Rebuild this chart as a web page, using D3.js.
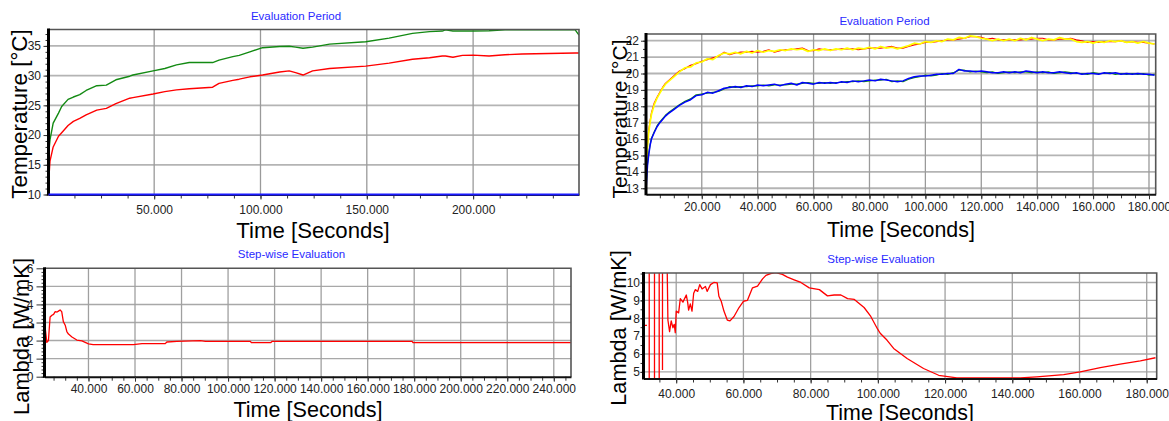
<!DOCTYPE html>
<html><head><meta charset="utf-8">
<script src="https://cdn.jsdelivr.net/npm/d3@7"></script>
<style>
body{margin:0;background:#fff}
svg{display:block}
text{font-family:"Liberation Sans",Arial,sans-serif}
</style>
</head><body>
<script>
// ---------------- Panel 1: Evaluation Period (temperature) ----------------
const p1Time = [300,1000,2500,5000,6500,9500,12000,15000,18000,23000,27500,32000,38500,40000,49500,55000,60500,66500,77500,80500,87000,90000,95000,101000,109000,113500,116500,120000,124500,132500,149500,160500,171500,179500,185500,187000,190500,195000,200000,207500,215000,223000,248000,249800];
const p1Green = [16.5,19.2,22.0,23.7,24.8,26.0,26.4,26.8,27.5,28.3,28.4,29.3,29.9,30.1,30.8,31.2,31.8,32.2,32.2,32.6,33.2,33.4,34.0,34.7,34.9,34.95,34.8,34.6,34.8,35.3,35.7,36.3,37.1,37.4,37.5,37.7,37.5,37.5,37.5,37.55,37.7,37.7,37.7,36.8];
const p1Red = [11.8,15.6,18.0,19.8,20.4,21.6,22.3,22.8,23.4,24.2,24.5,25.3,26.2,26.3,26.9,27.3,27.6,27.8,28.05,28.7,29.2,29.4,29.8,30.1,30.6,30.8,30.5,30.1,30.8,31.2,31.6,32.1,32.75,33.0,33.3,33.3,33.1,33.4,33.45,33.3,33.5,33.65,33.8,33.8];
const p1BlueTime = [300,249800];
const p1Blue = [10,10];
const p1XTicks = [50000,100000,150000,200000];
const p1YTicks = [10,15,20,25,30,35];

// ---------------- Panel 2: Evaluation Period (temperature) ----------------
const p2Time = [0,300,600,1000,1500,2000,3000,4000,5000,6000,7000,8000,10000,
 12000,14000,16000,18000,20000,22000,24000,26000,28000,30000,
 32000,34000,36000,38000,40000,42000,44000,46000,48000,50000,
 52000,54000,56000,58000,60000,62000,64000,66000,68000,70000,
 72000,74000,76000,78000,80000,82000,84000,86000,88000,90000,
 92000,94000,96000,98000,100000,102000,104000,106000,108000,110000,
 112000,114000,116000,118000,120000,122000,124000,126000,128000,130000,
 132000,134000,136000,138000,140000,142000,144000,146000,148000,150000,
 152000,154000,156000,158000,160000,162000,164000,166000,168000,170000,
 172000,174000,176000,178000,180000,182000];
const p2Red = [14.5,15.0,15.7,16.5,17.1,17.6,18.2,18.55,18.85,19.15,19.4,19.55,19.85,
 20.15,20.3,20.5,20.6,20.75,20.85,20.95,21.05,21.3,21.15,
 21.25,21.3,21.3,21.35,21.3,21.35,21.45,21.3,21.4,21.45,
 21.45,21.5,21.55,21.4,21.4,21.5,21.45,21.45,21.45,21.5,
 21.5,21.5,21.45,21.5,21.55,21.55,21.55,21.6,21.65,21.55,
 21.55,21.65,21.75,21.8,21.9,21.9,21.95,22.0,22.05,22.05,
 22.1,22.15,22.25,22.25,22.2,22.1,22.15,22.05,22.05,22.05,
 22.05,22.05,22.1,22.1,22.15,22.15,22.05,22.05,22.1,22.1,
 22.15,22.05,22.0,21.9,21.95,21.9,21.95,21.95,21.95,22.0,
 21.9,21.95,21.9,21.9,21.85,21.8];
const p2Yellow = [14.4,14.8,15.6,16.4,17.0,17.5,18.1,18.5,18.8,19.1,19.35,19.5,19.8,
 20.1,20.35,20.4,20.65,20.7,20.9,20.85,21.1,21.25,21.2,
 21.3,21.2,21.35,21.25,21.4,21.3,21.4,21.35,21.45,21.4,
 21.5,21.45,21.5,21.35,21.45,21.4,21.5,21.4,21.5,21.45,
 21.55,21.45,21.55,21.5,21.6,21.5,21.65,21.55,21.6,21.5,
 21.6,21.7,21.85,21.8,21.95,21.9,22.0,21.95,22.1,22.05,
 22.2,22.15,22.3,22.25,22.15,22.1,22.0,22.1,22.0,22.1,
 22.0,22.15,22.05,22.2,22.1,22.0,22.1,22.05,22.2,22.1,
 22.1,21.95,21.9,21.95,21.85,21.95,21.9,22.0,21.95,22.0,
 21.9,21.95,21.85,21.95,21.85,21.8];
const p2Green = [12.8,13.8,14.5,15.1,15.65,16.05,16.45,16.8,17.05,17.25,17.45,17.6,17.85,
 18.1,18.3,18.45,18.7,18.75,18.8,18.85,18.9,19.05,19.2,
 19.15,19.2,19.2,19.25,19.25,19.3,19.25,19.3,19.3,19.3,
 19.35,19.35,19.4,19.45,19.4,19.4,19.45,19.4,19.45,19.45,
 19.5,19.5,19.55,19.5,19.55,19.6,19.6,19.65,19.5,19.55,
 19.5,19.65,19.75,19.8,19.9,19.85,19.9,20.0,19.95,20.05,
 20.2,20.2,20.1,20.15,20.1,20.05,20.1,20.0,20.05,20.1,
 20.05,20.1,20.1,20.05,20.1,20.05,20.1,20.0,20.05,20.1,
 20.05,20.0,20.0,19.95,20.05,20.0,20.0,20.05,19.95,20.0,
 19.95,20.0,19.95,20.0,19.9,19.95];
const p2Blue = [12.7,13.6,14.4,15.0,15.6,16.0,16.4,16.75,17.0,17.2,17.4,17.55,17.8,
 18.05,18.25,18.4,18.65,18.7,18.85,18.8,18.95,19.1,19.15,
 19.2,19.15,19.25,19.2,19.3,19.25,19.3,19.35,19.25,19.35,
 19.4,19.3,19.45,19.4,19.35,19.45,19.4,19.45,19.4,19.5,
 19.45,19.55,19.5,19.55,19.6,19.55,19.65,19.6,19.55,19.5,
 19.55,19.7,19.8,19.85,19.85,19.9,19.95,19.95,20.0,20.0,
 20.25,20.15,20.15,20.1,20.15,20.1,20.05,20.05,20.1,20.05,
 20.1,20.05,20.15,20.1,20.05,20.1,20.05,20.05,20.1,20.05,
 20.0,20.05,19.95,20.0,20.0,19.95,20.05,20.0,20.05,19.95,
 20.0,19.95,20.0,19.95,19.95,19.9];
const p2XTicks = [20000,40000,60000,80000,100000,120000,140000,160000,180000];
const p2YTicks = [13,14,15,16,17,18,19,20,21,22];

// ---------------- Panel 3: Step-wise Evaluation (lambda) ----------------
const p3Time = [21100,22100,22800,23500,24300,25000,25700,26500,27100,27800,28500,29200,30000,30700,31400,32900,35000,37200,38600,40000,42000,59300,63000,73000,73700,78000,88100,90300,109600,110000,118400,119000,179100,179500,247400];
const p3Lambda = [3.04,1.9,2.0,3.3,3.4,3.45,3.6,3.58,3.63,3.69,3.6,3.05,2.85,2.5,2.36,2.2,2.03,1.98,1.9,1.82,1.78,1.78,1.83,1.83,1.92,1.96,2.0,1.96,1.96,1.89,1.89,1.96,1.96,1.89,1.89];
const p3XTicks = [40000,60000,80000,100000,120000,140000,160000,180000,200000,220000,240000];
const p3YTicks = [0,1,2,3,4,5,6];

// ---------------- Panel 4: Step-wise Evaluation (lambda) ----------------
// null = gap in the curve; 12 / 3 = off-scale excursions at the start
const p4Time = [30300,31300,31400,31970,31970,32000,33540,33540,33600,34940,34940,35000,35920,35920,36000,
 37230,37530,38030,38520,39020,39420,39720,40020,40720,41220,42000,43000,43400,43700,44200,44700,45200,45700,46400,47000,47700,48700,49200,50200,51200,52200,52700,53400,54200,55200,56000,57200,58700,60000,61200,62700,64200,65700,66700,68100,69600,71600,73100,75100,77100,79600,82600,85000,87000,89000,91000,93000,95900,97900,99900,100700,102700,104700,108700,113600,118100,123500,130500,142400,147300,155300,160200,166200,172100,178100,182600];
const p4Lambda = [7.6,7.6,null,12,3,null,12,3,null,12,3,null,12,5.1,null,
 12,7.9,7.25,7.85,7.47,7.66,7.19,8.4,8.3,9.1,8.9,9.3,8.9,8.45,8.8,8.4,9.4,9.6,9.5,9.88,9.64,9.78,9.5,9.88,10.0,9.98,9.23,8.95,8.4,7.9,7.85,8.1,8.6,8.95,9.0,9.7,9.8,10.2,10.4,10.5,10.55,10.45,10.3,10.15,10.0,9.7,9.6,9.25,9.3,9.3,9.1,9.05,8.6,8.1,7.4,7.16,6.78,6.31,5.75,5.19,4.81,4.66,4.66,4.66,4.72,4.85,5.0,5.24,5.43,5.62,5.79];
const p4XTicks = [40000,60000,80000,100000,120000,140000,160000,180000];
const p4YTicks = [5,6,7,8,9,10];

// ---------------- drawing ----------------
const W = 1169, H = 421;
const svg = d3.select("body").append("svg").attr("width", W).attr("height", H);
const fmt = n => d3.format(",")(n).replace(/,/g, ".");
let clipId = 0;

function panel(p) {
  const g = svg.append("g");
  const x = d3.scaleLinear().domain(p.xDomain).range([p.l, p.r]);
  const y = d3.scaleLinear().domain(p.yDomain).range([p.b, p.t]);

  // grid
  g.append("g").selectAll("line").data(p.yTicks.filter(v => y(v) > p.t + 1 && y(v) < p.b - 1)).join("line")
    .attr("x1", p.l).attr("x2", p.r).attr("y1", d => y(d)).attr("y2", d => y(d))
    .attr("stroke", p.hGridColor || "#b4b4b4").attr("stroke-width", p.hGridW || 1.8);
  g.append("g").selectAll("line").data(p.xTicks).join("line")
    .attr("x1", d => x(d)).attr("x2", d => x(d)).attr("y1", p.t).attr("y2", p.b)
    .attr("stroke", p.vGridColor || "#9a9a9a").attr("stroke-width", p.vGridW || 1.3);

  // minor ticks
  const xMinor = d3.range(Math.ceil(p.xDomain[0] / p.xMinor) * p.xMinor, p.xDomain[1], p.xMinor);
  const yMinor = d3.range(Math.ceil(p.yDomain[0] / p.yMinor) * p.yMinor, p.yDomain[1], p.yMinor);
  g.append("g").attr("transform", `translate(0,${p.b})`)
    .call(d3.axisBottom(x).tickValues(xMinor).tickFormat("").tickSize(p.xMinorLen || 4).tickSizeOuter(0))
    .call(a => a.select(".domain").remove())
    .call(a => a.selectAll("line").attr("stroke", "#333"));
  g.append("g").attr("transform", `translate(${p.l},0)`)
    .call(d3.axisLeft(y).tickValues(yMinor).tickFormat("").tickSize(p.yMinorLen || 3).tickSizeOuter(0))
    .call(a => a.select(".domain").remove())
    .call(a => a.selectAll("line").attr("stroke", "#333"));

  // series
  const cid = "clip" + (clipId++);
  g.append("clipPath").attr("id", cid).append("rect")
    .attr("x", p.l).attr("y", p.t).attr("width", p.r - p.l).attr("height", p.b - p.t);
  const line = d3.line().defined(d => d[1] !== null).x(d => x(d[0])).y(d => y(d[1]));
  p.series.forEach(s => {
    g.append("path").datum(d3.zip(s.t, s.v))
      .attr("clip-path", `url(#${cid})`)
      .attr("fill", "none").attr("stroke", s.color).attr("stroke-width", s.w || 1.3)
      .attr("stroke-linejoin", "round")
      .attr("d", line);
  });

  // frame top/right
  g.append("path")
    .attr("d", `M${p.l},${p.t}H${p.r}V${p.b}`)
    .attr("fill", "none").attr("stroke", "#555").attr("stroke-width", 1.6);

  // axes
  const xa = g.append("g").attr("transform", `translate(0,${p.b})`)
    .call(d3.axisBottom(x).tickValues(p.xTicks).tickFormat(fmt).tickSize(p.xMajorLen || 5).tickPadding(p.xPad).tickSizeOuter(0));
  xa.select(".domain").attr("stroke", "#111").attr("stroke-width", 2);
  xa.selectAll("line").attr("stroke", "#333");
  xa.selectAll("text").attr("font-size", 12).attr("fill", "#222").attr("font-family", '"Liberation Sans",Arial,sans-serif');

  const ya = g.append("g").attr("transform", `translate(${p.l},0)`)
    .call(d3.axisLeft(y).tickValues(p.yTicks).tickFormat(d3.format("d")).tickSize(p.yMajorLen).tickPadding(p.yPad).tickSizeOuter(0));
  ya.select(".domain").remove();
  ya.selectAll("line").attr("stroke", "#333");
  ya.selectAll("text").attr("font-size", 12).attr("fill", "#222").attr("font-family", '"Liberation Sans",Arial,sans-serif');
  g.append("line").attr("x1", p.l).attr("x2", p.l).attr("y1", p.t - 1).attr("y2", p.b + 1)
    .attr("stroke", "#000").attr("stroke-width", 3);

  // overlay series drawn on axis (e.g. blue baseline)
  (p.overlay || []).forEach(s => {
    g.append("path").datum(d3.zip(s.t, s.v))
      .attr("fill", "none").attr("stroke", s.color).attr("stroke-width", s.w || 2)
      .attr("d", line);
  });

  // titles and axis labels
  g.append("text").attr("x", p.titleX).attr("y", p.titleY).attr("text-anchor", "middle")
    .attr("font-size", 11.5).attr("fill", "#2a2aff").text(p.title);
  g.append("text").attr("x", p.xLabX).attr("y", p.xLabY).attr("text-anchor", "middle")
    .attr("font-size", p.xLabSize).attr("fill", "#000").text(p.xLabel);
  g.append("text").attr("transform", `translate(${p.yLabX},${p.yLabY}) rotate(-90)`).attr("text-anchor", "middle")
    .attr("font-size", p.yLabSize).attr("fill", "#000").text(p.yLabel);
}

panel({
  l: 48.5, r: 579, t: 29.5, b: 194.5,
  xDomain: [300, 249800], yDomain: [10, 37.76],
  xTicks: p1XTicks, yTicks: p1YTicks, xMinor: 12500, yMinor: 1,
  xPad: 5.5, yMajorLen: 5, yPad: 2.5,
  series: [
    { t: p1Time, v: p1Green, color: "#138a13", w: 1.4 },
    { t: p1Time, v: p1Red, color: "#ff0000", w: 1.4 }
  ],
  overlay: [{ t: p1BlueTime, v: p1Blue, color: "#1a1aff", w: 2.2 }],
  title: "Evaluation Period", titleX: 296, titleY: 19.5,
  xLabel: "Time [Seconds]", xLabX: 313, xLabY: 237.5, xLabSize: 22.2,
  yLabel: "Temperature [°C]", yLabX: 27, yLabY: 114, yLabSize: 22.4
});

panel({
  l: 646, r: 1155.7, t: 34, b: 194.3,
  xDomain: [50, 182400], yDomain: [12.63, 22.41],
  xTicks: p2XTicks, yTicks: p2YTicks, xMinor: 5000, yMinor: 0.5,
  xPad: 3.2, yMajorLen: 5, yPad: 2,
  series: [
    { t: p2Time, v: p2Red, color: "#ff0000", w: 1.2 },
    { t: p2Time, v: p2Yellow, color: "#ffff00", w: 1.7 },
    { t: p2Time, v: p2Green, color: "#138a13", w: 1.2 },
    { t: p2Time, v: p2Blue, color: "#0000ff", w: 1.5 }
  ],
  title: "Evaluation Period", titleX: 884.5, titleY: 24.5,
  xLabel: "Time [Seconds]", xLabX: 901, xLabY: 236.5, xLabSize: 21.4,
  yLabel: "Temperature [°C]", yLabX: 626.5, yLabY: 119, yLabSize: 21
});

panel({
  l: 44.5, r: 571, t: 268.3, b: 376.7,
  xDomain: [21100, 247400], yDomain: [0, 6],
  xTicks: p3XTicks, yTicks: p3YTicks, xMinor: 5000, yMinor: 0.2,
  xPad: 2.3, yMajorLen: 8, yPad: 3,
  hGridColor: "#a8a8a8", hGridW: 1.4, vGridColor: "#a0a0a0", vGridW: 1.3,
  series: [{ t: p3Time, v: p3Lambda, color: "#ff0000", w: 1.3 }],
  title: "Step-wise Evaluation", titleX: 291.5, titleY: 257.5,
  xLabel: "Time [Seconds]", xLabX: 308, xLabY: 416.5, xLabSize: 21.6,
  yLabel: "Lambda [W/mK]", yLabX: 28.8, yLabY: 336.5, yLabSize: 21.9
});

panel({
  l: 643.5, r: 1156.7, t: 273, b: 378.5,
  xDomain: [30270, 182970], yDomain: [4.63, 10.53],
  xTicks: p4XTicks, yTicks: p4YTicks, xMinor: 5000, yMinor: 0.5,
  xPad: 5.7, yMajorLen: 3, yPad: 0.5,
  hGridColor: "#a8a8a8", hGridW: 1.4, vGridColor: "#a0a0a0", vGridW: 1.3,
  series: [{ t: p4Time, v: p4Lambda, color: "#ff0000", w: 1.3 }],
  title: "Step-wise Evaluation", titleX: 881, titleY: 262.5,
  xLabel: "Time [Seconds]", xLabX: 900, xLabY: 420, xLabSize: 21.4,
  yLabel: "Lambda [W/mK]", yLabX: 625.5, yLabY: 328, yLabSize: 21.7
});
</script>
</body></html>
